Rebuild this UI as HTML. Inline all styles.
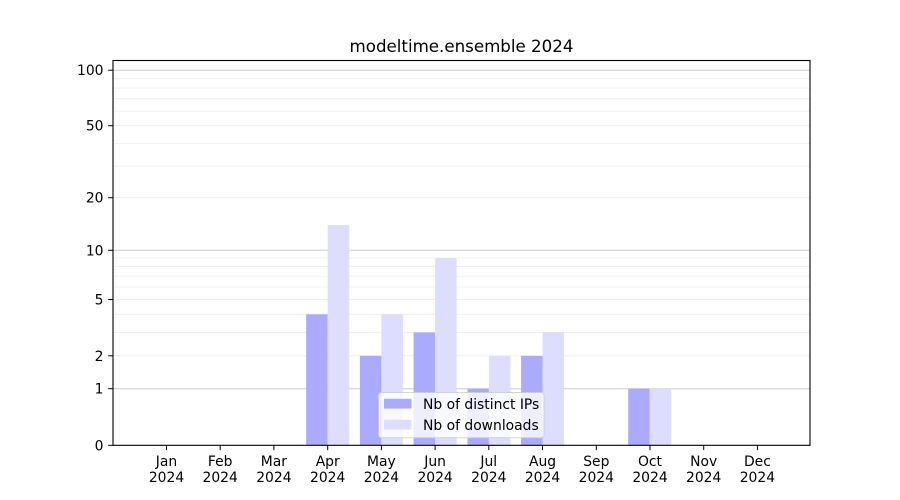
<!DOCTYPE html>
<html><head><meta charset="utf-8"><style>
html,body{margin:0;padding:0;background:#fff;}
svg{display:block;}
text{font-family:"DejaVu Sans","Liberation Sans",sans-serif;fill:#000;}
</style></head><body>
<svg width="900" height="500" viewBox="0 0 900 500" xmlns="http://www.w3.org/2000/svg">
<rect x="0" y="0" width="900" height="500" fill="#fff"/>
<!-- minor gridlines -->
<g stroke="#ebebeb" stroke-width="0.8">
<line x1="113" x2="810" y1="355.8" y2="355.8"/>
<line x1="113" x2="810" y1="332.4" y2="332.4"/>
<line x1="113" x2="810" y1="314.3" y2="314.3"/>
<line x1="113" x2="810" y1="299.5" y2="299.5"/>
<line x1="113" x2="810" y1="287.0" y2="287.0"/>
<line x1="113" x2="810" y1="276.1" y2="276.1"/>
<line x1="113" x2="810" y1="266.6" y2="266.6"/>
<line x1="113" x2="810" y1="258.0" y2="258.0"/>
<line x1="113" x2="810" y1="197.7" y2="197.7"/>
<line x1="113" x2="810" y1="166.1" y2="166.1"/>
<line x1="113" x2="810" y1="143.4" y2="143.4"/>
<line x1="113" x2="810" y1="125.7" y2="125.7"/>
<line x1="113" x2="810" y1="111.1" y2="111.1"/>
<line x1="113" x2="810" y1="98.8" y2="98.8"/>
<line x1="113" x2="810" y1="88.1" y2="88.1"/>
<line x1="113" x2="810" y1="78.7" y2="78.7"/>
</g>
<!-- major gridlines -->
<g stroke="#cccccc" stroke-width="1">
<line x1="113" x2="810" y1="388.7" y2="388.7"/>
<line x1="113" x2="810" y1="250.3" y2="250.3"/>
<line x1="113" x2="810" y1="70.2" y2="70.2"/>
</g>
<!-- bars: IPs -->
<g fill="#aaaaff">
<rect x="306.2" y="314.3" width="21.5" height="130.7"/>
<rect x="359.9" y="355.8" width="21.5" height="89.2"/>
<rect x="413.6" y="332.4" width="21.5" height="112.6"/>
<rect x="467.4" y="388.7" width="21.5" height="56.3"/>
<rect x="521.1" y="355.8" width="21.5" height="89.2"/>
<rect x="628.2" y="388.7" width="21.5" height="56.3"/>
</g>
<!-- bars: downloads -->
<g fill="#ddddff">
<rect x="327.7" y="225.1" width="21.5" height="219.9"/>
<rect x="381.4" y="314.3" width="21.5" height="130.7"/>
<rect x="435.1" y="258.0" width="21.5" height="187.0"/>
<rect x="488.9" y="355.8" width="21.5" height="89.2"/>
<rect x="542.6" y="332.4" width="21.5" height="112.6"/>
<rect x="649.7" y="388.7" width="21.5" height="56.3"/>
</g>
<!-- axes frame -->
<rect x="113" y="60.5" width="697" height="384.8" fill="none" stroke="#000" stroke-width="1.1"/>
<!-- y ticks -->
<g stroke="#000" stroke-width="1">
<line x1="108.2" x2="113" y1="445.3" y2="445.3"/>
<line x1="108.2" x2="113" y1="388.7" y2="388.7"/>
<line x1="108.2" x2="113" y1="355.8" y2="355.8"/>
<line x1="108.2" x2="113" y1="299.5" y2="299.5"/>
<line x1="108.2" x2="113" y1="250.3" y2="250.3"/>
<line x1="108.2" x2="113" y1="197.7" y2="197.7"/>
<line x1="108.2" x2="113" y1="125.7" y2="125.7"/>
<line x1="108.2" x2="113" y1="70.2" y2="70.2"/>
</g>
<g font-size="13.89" text-anchor="end">
<text x="103.5" y="450.3">0</text>
<text x="103.5" y="393.7">1</text>
<text x="103.5" y="360.8">2</text>
<text x="103.5" y="304.5">5</text>
<text x="103.5" y="255.3">10</text>
<text x="103.5" y="202.7">20</text>
<text x="103.5" y="130.7">50</text>
<text x="103.5" y="75.2">100</text>
</g>
<!-- x ticks -->
<g stroke="#000" stroke-width="1">
<line x1="166.5" x2="166.5" y1="445.3" y2="450.1"/>
<line x1="220.2" x2="220.2" y1="445.3" y2="450.1"/>
<line x1="273.9" x2="273.9" y1="445.3" y2="450.1"/>
<line x1="327.7" x2="327.7" y1="445.3" y2="450.1"/>
<line x1="381.4" x2="381.4" y1="445.3" y2="450.1"/>
<line x1="435.1" x2="435.1" y1="445.3" y2="450.1"/>
<line x1="488.8" x2="488.8" y1="445.3" y2="450.1"/>
<line x1="542.5" x2="542.5" y1="445.3" y2="450.1"/>
<line x1="596.3" x2="596.3" y1="445.3" y2="450.1"/>
<line x1="650.0" x2="650.0" y1="445.3" y2="450.1"/>
<line x1="703.7" x2="703.7" y1="445.3" y2="450.1"/>
<line x1="757.4" x2="757.4" y1="445.3" y2="450.1"/>
</g>
<g font-size="13.89" text-anchor="middle">
<text x="166.5" y="466">Jan</text><text x="166.5" y="482">2024</text>
<text x="220.2" y="466">Feb</text><text x="220.2" y="482">2024</text>
<text x="273.9" y="466">Mar</text><text x="273.9" y="482">2024</text>
<text x="327.7" y="466">Apr</text><text x="327.7" y="482">2024</text>
<text x="381.4" y="466">May</text><text x="381.4" y="482">2024</text>
<text x="435.1" y="466">Jun</text><text x="435.1" y="482">2024</text>
<text x="488.8" y="466">Jul</text><text x="488.8" y="482">2024</text>
<text x="542.5" y="466">Aug</text><text x="542.5" y="482">2024</text>
<text x="596.3" y="466">Sep</text><text x="596.3" y="482">2024</text>
<text x="650.0" y="466">Oct</text><text x="650.0" y="482">2024</text>
<text x="703.7" y="466">Nov</text><text x="703.7" y="482">2024</text>
<text x="757.4" y="466">Dec</text><text x="757.4" y="482">2024</text>
</g>
<!-- title -->
<text x="461.5" y="52" font-size="16.67" text-anchor="middle">modeltime.ensemble 2024</text>
<!-- legend -->
<rect x="378.5" y="392.5" width="165.5" height="45.2" rx="3" ry="3" fill="#ffffff" fill-opacity="0.8" stroke="#cccccc" stroke-opacity="0.8" stroke-width="1"/>
<rect x="384" y="398.8" width="27.5" height="9.8" fill="#aaaaff"/>
<rect x="384" y="419.8" width="27.5" height="9.8" fill="#ddddff"/>
<g font-size="13.89">
<text x="423" y="409.2">Nb of distinct IPs</text>
<text x="423" y="430">Nb of downloads</text>
</g>
</svg>
</body></html>
